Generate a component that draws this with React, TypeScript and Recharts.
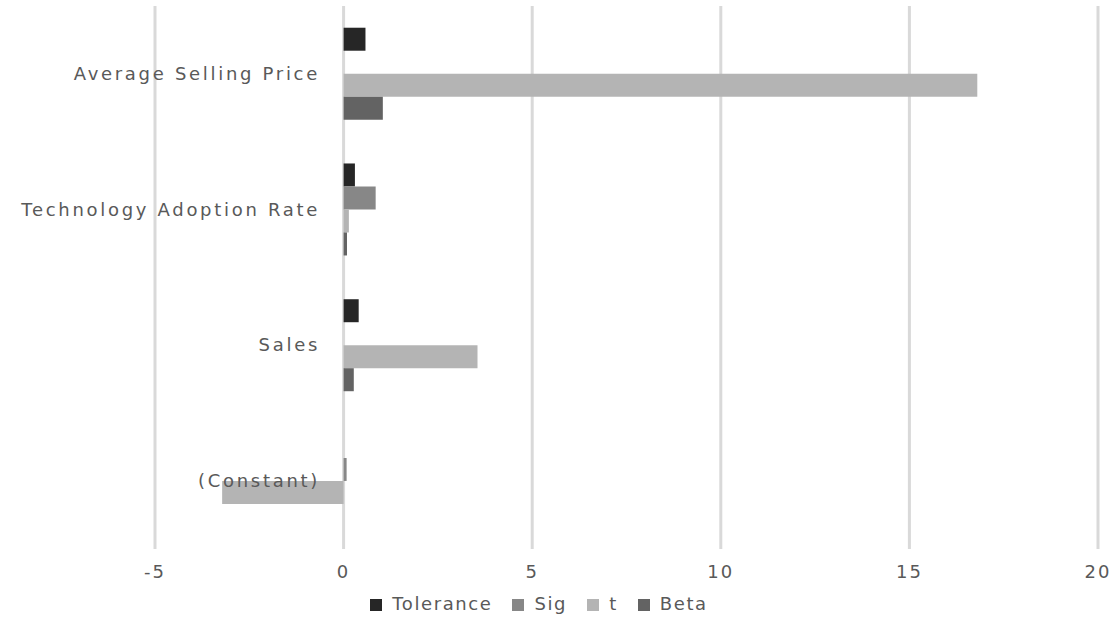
import { BarChart, Bar, XAxis, YAxis, CartesianGrid, Legend } from 'recharts';

const categories = ['Average Selling Price', 'Technology Adoption Rate', 'Sales', '(Constant)'];
const tolerance = [0.58, 0.3, 0.4, 0];
const sig = [0, 0.85, 0, 0.08];
const tValues = [16.8, 0.14, 3.55, -3.22];
const beta = [1.04, 0.09, 0.27, 0];
const xTicks = [-5, 0, 5, 10, 15, 20];

const rows = categories.map((name, i) => ({
  name,
  Tolerance: tolerance[i],
  Sig: sig[i],
  t: tValues[i],
  Beta: beta[i],
}));

const font = 'DejaVu Sans, sans-serif';

const CategoryTick = (props: any) => {
  const { x, y, payload } = props;
  return (
    <text x={x + 167} y={y} dy={6} textAnchor="end" fill="#595959" fontSize={18} fontFamily={font} letterSpacing={2.7}>
      {payload.value}
    </text>
  );
};

const App = () => {
  return (
    <div style={{ position: 'absolute', left: 0, top: 0, background: '#fff' }}>
      <BarChart
        width={1118}
        height={621}
        data={rows}
        layout="vertical"
        margin={{ top: 6, right: 20, bottom: 0, left: 0 }}
        barCategoryGap="16%"
        barGap={0}
      >
        <CartesianGrid horizontal={false} stroke="#d9d9d9" strokeWidth={3} />
        <XAxis
          type="number"
          domain={[-5, 20]}
          ticks={xTicks}
          axisLine={false}
          tickLine={false}
          tickMargin={10}
          height={44}
          tick={{ fill: '#595959', fontSize: 18, fontFamily: font, letterSpacing: 2 }}
        />
        <YAxis
          type="category"
          dataKey="name"
          width={155}
          axisLine={false}
          tickLine={false}
          tickSize={0}
          tick={<CategoryTick />}
        />
        <Legend
          verticalAlign="bottom"
          height={28}
          iconType="square"
          iconSize={12}
          itemSorter={null}
          wrapperStyle={{ fontFamily: font, fontSize: 18, letterSpacing: 1.6 }}
          formatter={(value: string) => (
            <span style={{ color: '#595959', marginLeft: 6, marginRight: 10 }}>{value}</span>
          )}
        />
        <Bar dataKey="Tolerance" fill="#262626" isAnimationActive={false} />
        <Bar dataKey="Sig" fill="#878787" isAnimationActive={false} />
        <Bar dataKey="t" fill="#b4b4b4" isAnimationActive={false} />
        <Bar dataKey="Beta" fill="#636363" isAnimationActive={false} />
      </BarChart>
    </div>
  );
};

export default App;
